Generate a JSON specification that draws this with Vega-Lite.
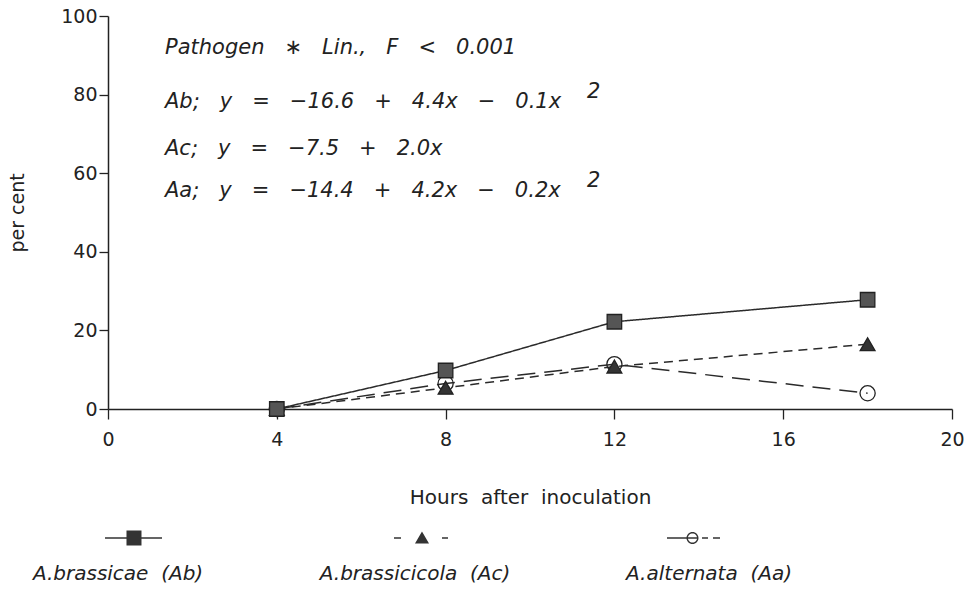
{
  "$schema": "https://vega.github.io/schema/vega-lite/v6.json",
  "autosize": {"type": "none"},
  "width": 844,
  "height": 393,
  "padding": {"left": 108, "top": 16, "right": 21, "bottom": 183},
  "background": "white",
  "config": {
    "view": {"stroke": null},
    "font": "DejaVu Sans",
    "axis": {"grid": false, "domainColor": "#222", "tickColor": "#222", "labelColor": "#222", "titleColor": "#222", "domainWidth": 1.5, "tickWidth": 1.3, "labelFont": "DejaVu Sans", "titleFont": "DejaVu Sans", "titleFontWeight": "normal", "labelFlush": false}
  },
  "datasets": {
    "obs": [
      {"hours": 4, "pct": 0, "series": "A.alternata\u00a0\u00a0(Aa)"},
      {"hours": 8, "pct": 6.5, "series": "A.alternata\u00a0\u00a0(Aa)"},
      {"hours": 12, "pct": 11.4, "series": "A.alternata\u00a0\u00a0(Aa)"},
      {"hours": 18, "pct": 4.0, "series": "A.alternata\u00a0\u00a0(Aa)"},
      {"hours": 4, "pct": 0, "series": "A.brassicicola\u00a0\u00a0(Ac)"},
      {"hours": 8, "pct": 5.4, "series": "A.brassicicola\u00a0\u00a0(Ac)"},
      {"hours": 12, "pct": 10.8, "series": "A.brassicicola\u00a0\u00a0(Ac)"},
      {"hours": 18, "pct": 16.5, "series": "A.brassicicola\u00a0\u00a0(Ac)"},
      {"hours": 4, "pct": 0, "series": "A.brassicae\u00a0\u00a0(Ab)"},
      {"hours": 8, "pct": 9.8, "series": "A.brassicae\u00a0\u00a0(Ab)"},
      {"hours": 12, "pct": 22.2, "series": "A.brassicae\u00a0\u00a0(Ab)"},
      {"hours": 18, "pct": 27.8, "series": "A.brassicae\u00a0\u00a0(Ab)"}
    ],
    "notes": [
      {"note": "Pathogen\u00a0\u00a0\u00a0\u2217\u00a0\u00a0\u00a0Lin.,\u00a0\u00a0\u00a0F\u00a0\u00a0\u00a0<\u00a0\u00a0\u00a00.001", "hours": 1.35, "pct": 91.9},
      {"note": "Ab;\u00a0\u00a0\u00a0y\u00a0\u00a0\u00a0=\u00a0\u00a0\u00a0\u221216.6\u00a0\u00a0\u00a0+\u00a0\u00a0\u00a04.4x\u00a0\u00a0\u00a0\u2212\u00a0\u00a0\u00a00.1x", "hours": 1.35, "pct": 78.1},
      {"note": "2", "hours": 11.35, "pct": 80.6},
      {"note": "Ac;\u00a0\u00a0\u00a0y\u00a0\u00a0\u00a0=\u00a0\u00a0\u00a0\u22127.5\u00a0\u00a0\u00a0+\u00a0\u00a0\u00a02.0x", "hours": 1.35, "pct": 66.2},
      {"note": "Aa;\u00a0\u00a0\u00a0y\u00a0\u00a0\u00a0=\u00a0\u00a0\u00a0\u221214.4\u00a0\u00a0\u00a0+\u00a0\u00a0\u00a04.2x\u00a0\u00a0\u00a0\u2212\u00a0\u00a0\u00a00.2x", "hours": 1.35, "pct": 55.5},
      {"note": "2", "hours": 11.35, "pct": 58.0}
    ]
  },
  "layer": [
    {
      "data": {"name": "obs"},
      "mark": {"type": "line", "color": "#2a2a2a", "strokeWidth": 1.5},
      "encoding": {
        "x": {"field": "hours", "type": "quantitative", "scale": {"domain": [0, 20], "nice": false},
          "axis": {"values": [0, 4, 8, 12, 16, 20], "tickSize": 10, "labelPadding": 11, "labelFontSize": 19, "title": "Hours\u00a0\u00a0after\u00a0\u00a0inoculation", "titleFontSize": 20, "titleY": 88, "titleBaseline": "middle"}},
        "y": {"field": "pct", "type": "quantitative", "scale": {"domain": [0, 100], "nice": false},
          "axis": {"values": [0, 20, 40, 60, 80, 100], "tickSize": 9, "labelPadding": 2, "labelFontSize": 19, "title": "per\u00a0cent", "titleFontSize": 19, "titleAngle": -90, "titleX": -91, "titleBaseline": "middle", "titleAlign": "center"}},
        "strokeDash": {"field": "series", "type": "nominal",
          "scale": {"domain": ["A.brassicae\u00a0\u00a0(Ab)", "A.brassicicola\u00a0\u00a0(Ac)", "A.alternata\u00a0\u00a0(Aa)"], "range": [[1, 0], [9, 6], [18, 9]]},
          "legend": null}
      }
    },
    {
      "data": {"name": "obs"},
      "mark": {"type": "point", "filled": true, "stroke": "#222", "strokeWidth": 1.3, "opacity": 1},
      "encoding": {
        "x": {"field": "hours", "type": "quantitative"},
        "y": {"field": "pct", "type": "quantitative"},
        "shape": {"field": "series", "type": "nominal",
          "scale": {"domain": ["A.brassicae\u00a0\u00a0(Ab)", "A.brassicicola\u00a0\u00a0(Ac)", "A.alternata\u00a0\u00a0(Aa)"], "range": ["square", "triangle-up", "circle"]},
          "legend": null},
        "fill": {"field": "series", "type": "nominal",
          "scale": {"domain": ["A.brassicae\u00a0\u00a0(Ab)", "A.brassicicola\u00a0\u00a0(Ac)", "A.alternata\u00a0\u00a0(Aa)"], "range": ["#555555", "#333333", "transparent"]},
          "legend": null},
        "size": {"field": "series", "type": "nominal",
          "scale": {"domain": ["A.brassicae\u00a0\u00a0(Ab)", "A.brassicicola\u00a0\u00a0(Ac)", "A.alternata\u00a0\u00a0(Aa)"], "range": [210, 230, 240]},
          "legend": null}
      }
    },
    {
      "data": {"name": "obs"},
      "mark": {"type": "point", "filled": true, "color": "#333", "opacity": 0},
      "encoding": {
        "x": {"field": "hours", "type": "quantitative"},
        "y": {"field": "pct", "type": "quantitative"},
        "shape": {"field": "series", "type": "nominal",
          "scale": {"domain": ["A.brassicae\u00a0\u00a0(Ab)", "A.brassicicola\u00a0\u00a0(Ac)", "A.alternata\u00a0\u00a0(Aa)"],
            "range": [
              "M-0.433,-1.227H1.467V-1.173H-0.433Z M0.283,-1.45H0.783V-0.95H0.283Z",
              "M-0.7,-1.227H-0.467V-1.173H-0.7Z M0,-1.017L0.233,-1.417L0.467,-1.017Z M0.9,-1.227H1.1V-1.173H0.9Z",
              "M-1.4,-1.227H-0.367V-1.173H-1.4Z M-0.35,-1.2A0.2,0.2 0 1,1 -0.75,-1.2A0.2,0.2 0 1,1 -0.35,-1.2Z M-0.397,-1.2A0.153,0.153 0 1,0 -0.703,-1.2A0.153,0.153 0 1,0 -0.397,-1.2Z M-0.233,-1.227H-0.033V-1.173H-0.233Z M0.133,-1.227H0.367V-1.173H0.133Z"
            ]},
          "legend": {"orient": "none", "legendX": -20, "legendY": 528, "direction": "horizontal", "columns": 3, "title": null,
            "symbolSize": 3600, "symbolOpacity": 1, "symbolFillColor": "#333", "symbolStrokeWidth": 0,
            "labelAlign": "center", "labelBaseline": "middle", "labelOffset": -30, "labelFont": "DejaVu Sans", "labelFontStyle": "italic",
            "labelFontSize": 20, "labelColor": "#222", "labelLimit": 0, "gridAlign": "each", "columnPadding": 115, "padding": 0}}
      }
    },
    {
      "data": {"name": "notes"},
      "mark": {"type": "text", "align": "left", "baseline": "middle", "font": "DejaVu Sans", "fontStyle": "italic", "fontSize": 21, "color": "#222"},
      "encoding": {
        "x": {"field": "hours", "type": "quantitative"},
        "y": {"field": "pct", "type": "quantitative"},
        "text": {"field": "note", "type": "nominal"}
      }
    }
  ],
  "resolve": {"scale": {"shape": "independent", "fill": "independent", "size": "independent"}, "legend": {"shape": "independent"}}
}
